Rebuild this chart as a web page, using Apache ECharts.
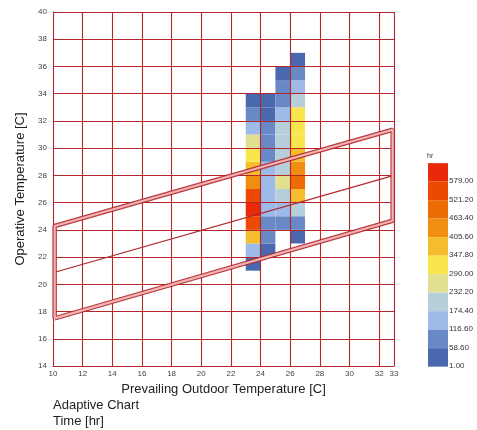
<!DOCTYPE html>
<html>
<head>
<meta charset="utf-8">
<script src="https://cdn.jsdelivr.net/npm/echarts@6/dist/echarts.min.js"></script>
<style>
  html, body { margin: 0; padding: 0; background: #fff; }
  #chart { width: 477px; height: 430px; }
</style>
</head>
<body>
<div id="chart"></div>
<script>
// outdoor temperature bins (lower edge of each column)
var tOut = [23, 24, 25, 26];
// lower edge of the first cell in each column
var colBottom = [21, 22, 24, 23];
// hours per 1C operative temperature bin, bottom to top
var hours23 = [30, 150, 380, 550, 600, 530, 430, 370, 320, 260, 150, 90, 30];
var hours24 = [35, 80, 110, 145, 140, 120, 120, 110, 90, 85, 50, 30];
var hours25 = [80, 140, 190, 250, 195, 195, 195, 190, 130, 90, 80, 40];
var hours26 = [40, 85, 195, 380, 470, 430, 380, 320, 320, 295, 200, 120, 60, 30];

// legend bins
var binLow = [1, 58.6, 116.6, 174.4, 232.2, 290, 347.8, 405.6, 463.4, 521.2, 579];
var binColors = ['#4a68ad', '#6888c6', '#9dbae9', '#b7cedb', '#e0e090', '#f9e54d',
                 '#f5bd2e', '#f08e12', '#ec6c05', '#ea4a04', '#e8290a'];

// comfort zone outline and neutral line [outdoor, operative]
var zoneX = [10.11, 10.11, 32.91, 32.91, 10.11];
var zoneY = [17.5, 24.28, 31.35, 24.67, 17.5];
var neutralX = [10, 33];
var neutralY = [20.85, 28.0];

var cols = [hours23, hours24, hours25, hours26];
var cells = [];
cols.forEach(function (list, i) {
  list.forEach(function (v, j) {
    cells.push([tOut[i], colBottom[i] + j, v]);
  });
});

// labels sit on the lower edge of each swatch: push the text down with empty lines
var pad = '\n\n\n\n\n\n\n\n\n\n';
var pieces = binLow.map(function (lo, i) {
  var p = { min: lo, label: pad + lo.toFixed(2), color: binColors[i] };
  if (i < binLow.length - 1) p.max = binLow[i + 1];
  return p;
});

function pairs(xs, ys) {
  return xs.map(function (x, i) { return [x, ys[i]]; });
}

var gridRed = '#b3272b';
var font = 'Liberation Sans, Arial, sans-serif';

var chart = echarts.init(document.getElementById('chart'));
chart.setOption({
  animation: false,
  textStyle: { fontFamily: font },
  grid: { left: 53, right: 83, top: 12, bottom: 64 },
  xAxis: {
    type: 'value', min: 10, max: 33, interval: 2, z: 5,
    name: 'Prevailing Outdoor Temperature [C]',
    nameLocation: 'middle', nameGap: 15,
    nameTextStyle: { fontSize: 13, color: '#222', fontFamily: font },
    axisLine: { lineStyle: { color: gridRed, width: 1 } },
    axisTick: { show: false },
    axisLabel: { fontSize: 8, color: '#444', margin: 4 },
    splitLine: { show: true, lineStyle: { color: gridRed, width: 1.1 } }
  },
  yAxis: {
    type: 'value', min: 14, max: 40, interval: 2, z: 5,
    name: 'Operative Temperature [C]',
    nameLocation: 'middle', nameGap: 22,
    nameTextStyle: { fontSize: 13, color: '#222', fontFamily: font },
    axisLine: { show: true, lineStyle: { color: gridRed, width: 1 } },
    axisTick: { show: false },
    axisLabel: { fontSize: 8, color: '#444', margin: 6 },
    splitLine: { show: true, lineStyle: { color: gridRed, width: 1.1 } }
  },
  visualMap: {
    type: 'piecewise',
    dimension: 2,
    seriesIndex: 0,
    pieces: pieces,
    selectedMode: false,
    hoverLink: false,
    orient: 'vertical',
    align: 'left',
    left: 428, top: 160,
    padding: 0,
    itemWidth: 20, itemHeight: 18.5,
    itemGap: -6.3, itemSymbol: 'rect',
    textGap: 1,
    textStyle: { fontSize: 8, color: '#333', lineHeight: 1.68 }
  },
  graphic: [
    { type: 'text', left: 427, top: 153, style: { text: 'hr', fontSize: 7, fill: '#333', fontFamily: font } },
    { type: 'text', left: 53, top: 399, style: { text: 'Adaptive Chart', fontSize: 13, fill: '#222', fontFamily: font } },
    { type: 'text', left: 53, top: 415, style: { text: 'Time [hr]', fontSize: 13, fill: '#222', fontFamily: font } }
  ],
  series: [
    {
      type: 'custom',
      z: 2,
      data: cells,
      encode: { x: 0, y: 1 },
      renderItem: function (params, api) {
        var x = api.value(0), y = api.value(1);
        var p0 = api.coord([x, y + 1]);
        var p1 = api.coord([x + 1, y]);
        return {
          type: 'rect',
          shape: { x: p0[0], y: p0[1], width: p1[0] - p0[0], height: p1[1] - p0[1] },
          style: { fill: api.visual('color') }
        };
      }
    },
    {
      type: 'line', z: 6, symbol: 'none', silent: true,
      data: pairs(zoneX, zoneY),
      lineStyle: { color: '#b3272b', width: 4.5, opacity: 0.9 }
    },
    {
      type: 'line', z: 7, symbol: 'none', silent: true,
      data: pairs(zoneX, zoneY),
      lineStyle: { color: '#f2b4b4', width: 2.2 }
    },
    {
      type: 'line', z: 6, symbol: 'none', silent: true,
      data: pairs(neutralX, neutralY),
      lineStyle: { color: '#b3272b', width: 1.2 }
    }
  ]
});
</script>
</body>
</html>
